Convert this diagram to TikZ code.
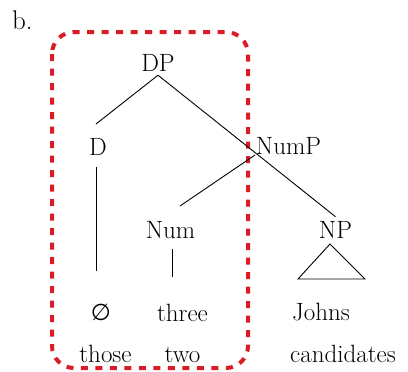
\documentclass[tikz,border=0pt]{standalone}
\usepackage{fontspec}
\newfontfamily\symbfont{DejaVu Sans}
\definecolor{boxred}{RGB}{218,28,36}
\begin{document}
\begin{tikzpicture}[x=1pt,y=-1pt,
  lbl/.style={anchor=base,inner sep=4pt,font=\fontsize{25}{30}\selectfont},
  edge/.style={line width=0.9pt,black},
  redbox/.style={draw=boxred,line width=4pt,dash pattern=on 7pt off 7.5pt,rounded corners=22pt}]
\useasboundingbox (0,0) rectangle (408,372);
% dashed red box
\draw[redbox] (52,32) rectangle (248,368);
% labels
\node[lbl,anchor=base west,inner sep=0pt,font=\fontsize{27}{30}\selectfont] (b) at (12,30) {b.};
\node[lbl] (DP) at (158,71) {DP};
\node[lbl] (D) at (98,155) {D};
\node[lbl] (NumP) at (288.5,154) {NumP};
\node[lbl] (Num) at (170.5,238) {Num};
\node[lbl] (NP) at (335.5,238) {NP};
\node[lbl,font=\fontsize{23}{26}\selectfont\symbfont] (empty) at (101,320) {∅};
\node[lbl] (three) at (182.5,321) {three};
\node[lbl] (Johns) at (321,320) {Johns};
\node[lbl] (those) at (105.5,362) {those};
\node[lbl] (two) at (182.5,362) {two};
\node[lbl] (cand) at (343,362) {candidates};
% connector end points
\coordinate (dEnd) at (96,124);
\coordinate (dTop) at (96,167);
\coordinate (dBot) at (96,271);
\coordinate (numpEnd) at (255,155);
\coordinate (numEnd) at (180,206);
\coordinate (numTop) at (172,249);
\coordinate (numBot) at (172,277);
\coordinate (triA) at (330,244);
\coordinate (triL) at (298,279);
\coordinate (triR) at (365,279);
% connectors
\draw[edge] (DP.south) -- (dEnd);
\draw[edge] (DP.south) -- (NP.north);
\draw[edge] (numpEnd) -- (numEnd);
\draw[edge] (dTop) -- (dBot);
\draw[edge] (numTop) -- (numBot);
\draw[edge] (triA) -- (triL) -- (triR) -- cycle;
\end{tikzpicture}
\end{document}
